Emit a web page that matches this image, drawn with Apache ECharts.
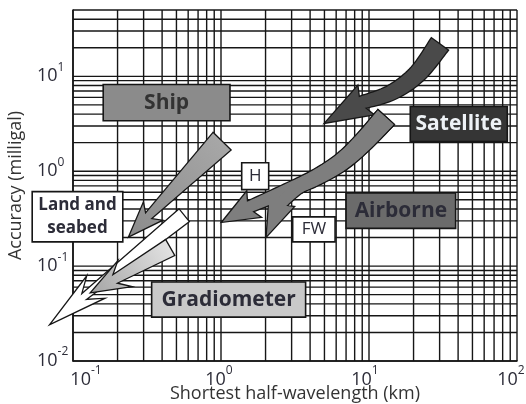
<!DOCTYPE html>
<html>
<head>
<meta charset="utf-8">
<script src="https://cdn.jsdelivr.net/npm/echarts@6/dist/echarts.min.js"></script>
<style>
  html, body { margin: 0; padding: 0; background: #fff; }
  #chart { width: 526px; height: 404px; }
</style>
</head>
<body>
<div id="chart"></div>
<script>
// ---- Axis ticks -------------------------------------------------------------
const xTickValues = [0.1, 1, 10, 100];
const xTickLabels = ['10⁻¹', '10⁰', '10¹', '10²'];
const yTickValues = [0.01, 0.1, 1, 10];
const yTickLabels = ['10⁻²', '10⁻¹', '10⁰', '10¹'];
const xRange = [0.1, 100];   // shortest half-wavelength, km
const yRange = [0.01, 50];   // accuracy, mGal

// ---- Survey platforms: half-wavelength span (km) and accuracy span (mGal) ----
const platformNames = ['Ship', 'Satellite', 'Airborne', 'Gradiometer', 'Land and\nseabed'];
const platformX = [[0.16, 1.15], [19, 86], [7, 38.5], [0.34, 3.73], [0.053, 0.217]];
const platformY = [[3.4, 8.2], [2.05, 4.8], [0.25, 0.59], [0.029, 0.068], [0.18, 0.61]];

// ---- Airborne sensor tags (H, FW) ------------------------------------------
const sensorNames = ['H', 'FW'];
const sensorX = [[1.38, 2.1], [3.05, 5.9]];
const sensorY = [[0.64, 1.23], [0.18, 0.33]];

// ---- Trend arrows: path from tail to head base, then the tip ----------------
const trendNames = ['Satellite', 'Airborne H', 'Airborne FW', 'Ship', 'Land and seabed', 'Gradiometer'];
const trendPathX = [
  [30, 21.3, 14.2, 8.93],
  [12.97, 9.07, 6.54, 4.5, 2.91, 1.56],
  [12.97, 9.07, 6.54, 4.5, 3.3, 2.53],
  [1.01, 0.32],
  [0.56, 0.116],
  [0.45, 0.188]
];
const trendPathY = [
  [21.7, 10.7, 6.76, 5.3],
  [3.68, 2.0, 1.26, 0.877, 0.64, 0.423],
  [3.68, 2.0, 1.26, 0.877, 0.671, 0.455],
  [2.05, 0.332],
  [0.34, 0.0463],
  [0.156, 0.0716]
];
const trendTipX = [5.1, 1.027, 2.04, 0.2415, 0.0718, 0.134];
const trendTipY = [3.26, 0.294, 0.209, 0.209, 0.0252, 0.0535];

// ---- Styles -------------------------------------------------------------------
const INK = '#161616';
const TEXT = '#2c2c38';
const FONT = '"Open Sans", "Noto Sans", sans-serif';

const platformStyle = [
  { fill: '#8b8b8b', color: '#333333', font: 'bold 21px ' + FONT },
  { fill: '#353535', color: '#eef2f6', font: 'bold 21px ' + FONT },
  { fill: '#6b6b6b', color: TEXT, font: 'bold 21px ' + FONT },
  { fill: '#c9c9c9', color: TEXT, font: 'bold 21px ' + FONT },
  { fill: '#ffffff', color: TEXT, font: 'bold 17px ' + FONT, lineHeight: 23 }
];
const sensorStyle = { fill: '#ffffff', color: TEXT, font: '17px ' + FONT };

const G = echarts.graphic;
const trendStyle = [
  { fill: '#4a4a4a', w0: 20, w1: 12, hw: 32, sweep: 4, layer: 0 },
  { fill: '#7e7e7e', w0: 21, w1: 11, hw: 28, sweep: 4, layer: 1 },
  { fill: '#7e7e7e', w0: 21, w1: 11, hw: 26, sweep: 2, layer: 1 },
  { fill: new G.LinearGradient(1, 0, 0, 1, [{ offset: 0, color: '#a9a9a9' }, { offset: 1, color: '#8c8c8c' }]),
    w0: 24, w1: 7, hw: 24, sweep: 6, layer: 2 },
  { fill: '#ffffff', w0: 15, w1: 6, hw: 26, sweep: 14, layer: 3 },
  { fill: new G.LinearGradient(1, 0, 0, 1, [{ offset: 0, color: '#e6e6e6' }, { offset: 1, color: '#a6a6a6' }]),
    w0: 17, w1: 8, hw: 26, sweep: 10, layer: 4 }
];

// Horizontal nudges of the x tick labels (px, + = right)
const xLabelShift = [13, -2, -4, -6];

// ---- Helpers ----------------------------------------------------------------
const SUP = { '⁻': '-', '⁰': '0', '¹': '1', '²': '2', '³': '3' };
function richPower(label, shift) {
  const m = label.match(/^(\d+)(.*)$/);
  const exp = Array.from(m[2]).map(c => SUP[c] || c).join('');
  const pad = Math.abs(2 * (shift || 0));
  const padTok = pad ? '{p' + pad + '| }' : '';
  const core = '{b|' + m[1] + '}{s|' + exp + '}';
  return shift > 0 ? padTok + core : core + padTok;
}
function lookupIndex(values, v) {
  for (let i = 0; i < values.length; i++) {
    if (Math.abs(Math.log10(values[i]) - Math.log10(v)) < 1e-6) return i;
  }
  return -1;
}
const tickRich = {
  b: { fontSize: 18, fontFamily: FONT, color: TEXT, lineHeight: 24, verticalAlign: 'bottom' },
  s: { fontSize: 12, fontFamily: FONT, color: TEXT, verticalAlign: 'top' }
};
xLabelShift.forEach(s => { if (s) tickRich['p' + Math.abs(2 * s)] = { width: Math.abs(2 * s) }; });

// Catmull-Rom smoothing of a pixel polyline
function smooth(pts) {
  if (pts.length < 3) return pts.slice();
  const out = [];
  const n = pts.length;
  for (let i = 0; i < n - 1; i++) {
    const p0 = pts[Math.max(i - 1, 0)], p1 = pts[i], p2 = pts[i + 1], p3 = pts[Math.min(i + 2, n - 1)];
    for (let k = 0; k < 12; k++) {
      const t = k / 12, t2 = t * t, t3 = t2 * t;
      const c = d => 0.5 * (2 * p1[d] + (-p0[d] + p2[d]) * t +
        (2 * p0[d] - 5 * p1[d] + 4 * p2[d] - p3[d]) * t2 +
        (-p0[d] + 3 * p1[d] - 3 * p2[d] + p3[d]) * t3);
      out.push([c(0), c(1)]);
    }
  }
  out.push(pts[n - 1]);
  return out;
}

function unit(dx, dy) { const l = Math.hypot(dx, dy) || 1; return [dx / l, dy / l]; }

// Tapered arrow outline in pixel space
function arrowOutline(pts, tip, st) {
  const p = smooth(pts);
  const n = p.length;
  const s = [0];
  for (let i = 1; i < n; i++) s.push(s[i - 1] + Math.hypot(p[i][0] - p[i - 1][0], p[i][1] - p[i - 1][1]));
  const total = s[n - 1] || 1;
  const neck = p[n - 1];
  const u = unit(tip[0] - neck[0], tip[1] - neck[1]);
  const nh = [-u[1], u[0]];
  const L = [], R = [];
  for (let i = 0; i < n; i++) {
    const w = st.w0 + (st.w1 - st.w0) * s[i] / total;
    let nr;
    if (i === n - 1) nr = nh;
    else {
      const a = p[Math.max(i - 1, 0)], b = p[Math.min(i + 1, n - 1)];
      const t = unit(b[0] - a[0], b[1] - a[1]);
      nr = [-t[1], t[0]];
    }
    L.push([p[i][0] + nr[0] * w / 2, p[i][1] + nr[1] * w / 2]);
    R.push([p[i][0] - nr[0] * w / 2, p[i][1] - nr[1] * w / 2]);
  }
  const bL = [neck[0] + nh[0] * st.hw / 2 - u[0] * st.sweep, neck[1] + nh[1] * st.hw / 2 - u[1] * st.sweep];
  const bR = [neck[0] - nh[0] * st.hw / 2 - u[0] * st.sweep, neck[1] - nh[1] * st.hw / 2 - u[1] * st.sweep];
  return L.concat([bL, tip, bR], R.reverse());
}

// ---- Log grid lines (1..9 per decade) ----------------------------------------
function decadeLines(lo, hi) {
  const out = [];
  for (let e = Math.floor(Math.log10(lo)); e <= Math.ceil(Math.log10(hi)); e++) {
    for (let m = 1; m <= 9; m++) {
      const v = m * Math.pow(10, e);
      if (v >= lo * 0.9999 && v <= hi * 1.0001) out.push(v);
    }
  }
  return out;
}
const gridX = decadeLines(xRange[0], xRange[1]);
const gridY = decadeLines(yRange[0], yRange[1]);

const chart = echarts.init(document.getElementById('chart'), null, { renderer: 'canvas' });

const option = {
  animation: false,
  backgroundColor: '#ffffff',
  grid: { left: 73, right: 9, top: 10, bottom: 43, show: false, containLabel: false, outerBoundsMode: 'none' },
  xAxis: {
    type: 'log', logBase: 10, min: xRange[0], max: xRange[1],
    axisLine: { show: true, lineStyle: { color: INK, width: 1.6 } },
    axisTick: { show: false },
    splitLine: { show: false },
    axisLabel: {
      margin: 4,
      formatter: v => {
        const i = lookupIndex(xTickValues, v);
        return i >= 0 ? richPower(xTickLabels[i], xLabelShift[i]) : '';
      },
      rich: tickRich
    },
    name: 'Shortest half-wavelength (km)',
    nameLocation: 'middle', nameGap: 24, nameMoveOverlap: false,
    nameTextStyle: { fontSize: 18, fontFamily: FONT, color: '#333' }
  },
  yAxis: {
    type: 'log', logBase: 10, min: yRange[0], max: yRange[1],
    axisLine: { show: true, lineStyle: { color: INK, width: 1.6 } },
    axisTick: { show: false },
    splitLine: { show: false },
    axisLabel: {
      margin: 36,
      align: 'left',
      padding: [0, 0, 6, 0],
      formatter: v => {
        const i = lookupIndex(yTickValues, v);
        return i >= 0 ? richPower(yTickLabels[i], 0) : '';
      },
      rich: tickRich
    },
    name: 'Accuracy (milligal)',
    nameLocation: 'middle', nameGap: 48, nameMoveOverlap: false,
    nameTextStyle: { fontSize: 18, fontFamily: FONT, color: '#333' }
  },
  series: [
    {
      // log grid
      type: 'custom', z: 1, silent: true,
      data: [[1, 1]],
      renderItem: (params, api) => {
        const children = [];
        gridX.forEach(v => {
          const a = api.coord([v, yRange[0]]), b = api.coord([v, yRange[1]]);
          children.push({ type: 'line', shape: { x1: a[0], y1: a[1], x2: b[0], y2: b[1] },
            style: { stroke: INK, lineWidth: 1.4 } });
        });
        gridY.forEach(v => {
          const a = api.coord([xRange[0], v]), b = api.coord([xRange[1], v]);
          children.push({ type: 'line', shape: { x1: a[0], y1: a[1], x2: b[0], y2: b[1] },
            style: { stroke: INK, lineWidth: 1.4 } });
        });
        return { type: 'group', children };
      }
    },
    {
      // trend arrows
      type: 'custom', z: 3, silent: true, clip: false,
      data: trendPathX.map((xs, i) => [xs[0], trendPathY[i][0]]),
      renderItem: (params, api) => {
        const i = params.dataIndex;
        const st = trendStyle[i];
        const pts = trendPathX[i].map((x, k) => api.coord([x, trendPathY[i][k]]));
        const tip = api.coord([trendTipX[i], trendTipY[i]]);
        const outline = arrowOutline(pts, tip, st);
        return {
          type: 'group',
          children: [
            { type: 'polygon', z2: st.layer * 2, shape: { points: outline },
              style: { fill: INK, stroke: INK, lineWidth: 2.6, lineJoin: 'miter', miterLimit: 8 } },
            { type: 'polygon', z2: st.layer * 2 + 1, shape: { points: outline },
              style: { fill: st.fill, stroke: null } }
          ]
        };
      }
    },
    {
      // platform boxes
      type: 'custom', z: 4, silent: true, clip: false,
      data: platformX.map((xs, i) => [xs[0], platformY[i][0]]),
      renderItem: (params, api) => {
        const i = params.dataIndex;
        const st = platformStyle[i];
        const a = api.coord([platformX[i][0], platformY[i][1]]);
        const b = api.coord([platformX[i][1], platformY[i][0]]);
        return {
          type: 'group',
          children: [
            { type: 'rect', shape: { x: a[0], y: a[1], width: b[0] - a[0], height: b[1] - a[1] },
              style: { fill: st.fill, stroke: INK, lineWidth: 1.6 } },
            { type: 'text', x: (a[0] + b[0]) / 2, y: (a[1] + b[1]) / 2,
              style: { text: platformNames[i], fill: st.color, font: st.font, lineHeight: st.lineHeight,
                align: 'center', verticalAlign: 'middle' } }
          ]
        };
      }
    },
    {
      // airborne sensor tags
      type: 'custom', z: 4, silent: true, clip: false,
      data: sensorX.map((xs, i) => [xs[0], sensorY[i][0]]),
      renderItem: (params, api) => {
        const i = params.dataIndex;
        const a = api.coord([sensorX[i][0], sensorY[i][1]]);
        const b = api.coord([sensorX[i][1], sensorY[i][0]]);
        return {
          type: 'group',
          children: [
            { type: 'rect', shape: { x: a[0], y: a[1], width: b[0] - a[0], height: b[1] - a[1] },
              style: { fill: sensorStyle.fill, stroke: INK, lineWidth: 1.6 } },
            { type: 'text', x: (a[0] + b[0]) / 2, y: (a[1] + b[1]) / 2,
              style: { text: sensorNames[i], fill: sensorStyle.color, font: sensorStyle.font,
                align: 'center', verticalAlign: 'middle' } }
          ]
        };
      }
    }
  ]
};

chart.setOption(option);
</script>
</body>
</html>
